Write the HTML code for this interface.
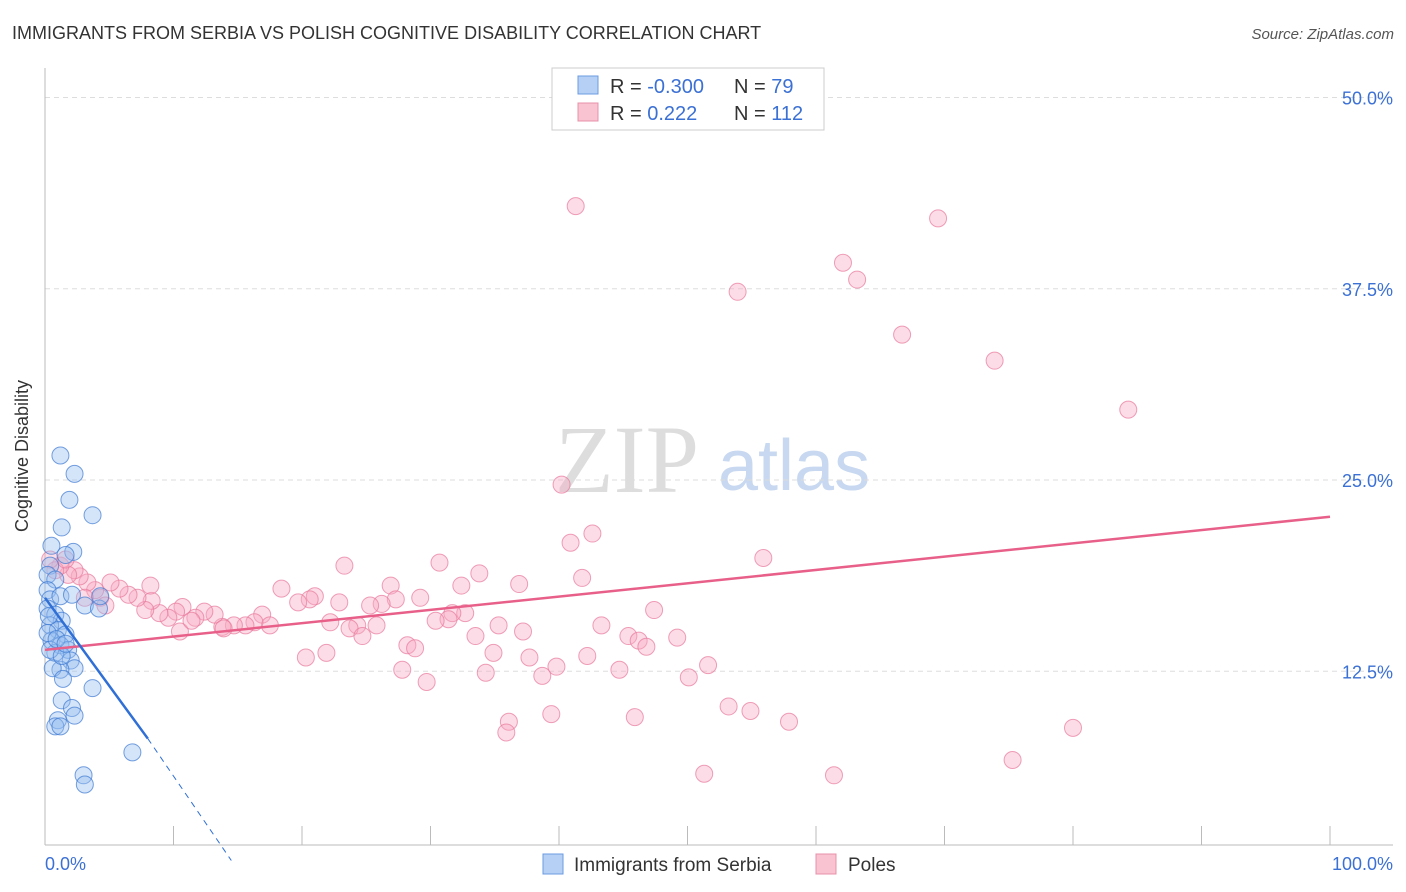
<!DOCTYPE html>
<html><head><meta charset="utf-8"><style>
body{margin:0;background:#fff;font-family:"Liberation Sans",sans-serif}
svg{display:block}
</style></head><body>
<svg id="chart" width="1406" height="892" xmlns="http://www.w3.org/2000/svg">
<text x="12" y="39" font-size="18" fill="#333">IMMIGRANTS FROM SERBIA VS POLISH COGNITIVE DISABILITY CORRELATION CHART</text>
<text x="1394" y="39" font-size="15" fill="#555" font-style="italic" text-anchor="end">Source: ZipAtlas.com</text>
<g>
<text x="555" y="492" font-size="96" fill="#ddd" font-family="Liberation Serif,serif">ZIP</text>
<text x="718" y="490" font-size="72" fill="#c8d8f0">atlas</text>
</g>
<g id="grid"></g>
<g id="axes"></g>
<g id="pts"></g>
<g id="trends"></g>
<text x="28" y="456" font-size="18" fill="#333" text-anchor="middle" transform="rotate(-90 28 456)">Cognitive Disability</text>
<g>
<rect x="552" y="68" width="272" height="62" fill="#fff" stroke="#ccc"/>
<rect x="578" y="76" width="20" height="18" fill="#b6d0f5" stroke="#6a9be0"/>
<rect x="578" y="103" width="20" height="18" fill="#f9c3d2" stroke="#e890aa"/>
<text x="610" y="93" font-size="20" fill="#333">R = <tspan fill="#3b70d4">-0.300</tspan></text>
<text x="734" y="93" font-size="20" fill="#333">N = <tspan fill="#3b70d4"> 79</tspan></text>
<text x="610" y="120" font-size="20" fill="#333">R = <tspan fill="#3b70d4"> 0.222</tspan></text>
<text x="734" y="120" font-size="20" fill="#333">N = <tspan fill="#3b70d4">112</tspan></text>
</g>
<g>
<rect x="543" y="854" width="20" height="20" fill="#b6d0f5" stroke="#6a9be0"/>
<text x="574" y="871" font-size="19" fill="#333">Immigrants from Serbia</text>
<rect x="816" y="854" width="20" height="20" fill="#f9c3d2" stroke="#e890aa"/>
<text x="848" y="871" font-size="19" fill="#333">Poles</text>
</g>
</svg>
<script>
const yTicks=[50,37.5,25,12.5];
const yTickLabels=["50.0%","37.5%","25.0%","12.5%"];
const xTickLabels=["0.0%","100.0%"];
const serbiaX=[1.2,2.3,1.9,3.7,1.3,0.5,2.2,1.6,0.4,0.2,0.8,0.2,0.4,1.2,2.1,3.1,4.2,4.3,0.2,0.8,1.3,0.4,1.0,1.6,0.5,1.2,1.8,0.8,2.0,2.3,1.2,0.6,1.4,3.7,1.3,2.1,2.3,1.0,0.8,1.2,6.8,3.0,3.1,0.2,0.4,0.9,1.3,1.6,0.3];
const serbiaY=[26.6,25.4,23.7,22.7,21.9,20.7,20.3,20.1,19.4,18.8,18.5,17.8,17.2,17.4,17.5,16.8,16.6,17.4,16.6,16.2,15.8,15.5,15.2,14.9,14.5,14.2,13.9,13.7,13.2,12.7,12.6,12.7,12.0,11.4,10.6,10.1,9.6,9.3,8.9,8.9,7.2,5.7,5.1,15.0,13.9,14.6,13.5,14.3,16.1];
const polesX=[41.3,69.5,62.1,63.2,53.9,66.7,73.9,84.3,40.2,42.6,40.9,55.9,30.7,23.3,33.8,41.8,26.9,32.4,36.9,18.4,21.0,20.6,19.7,22.9,27.3,29.2,26.2,25.3,47.4,32.7,31.7,31.4,30.4,22.2,24.3,23.7,25.8,35.3,43.3,33.5,37.2,45.4,46.2,49.2,46.8,24.7,28.2,28.8,34.9,21.9,20.3,37.7,42.2,39.8,51.6,27.8,34.3,44.7,38.7,50.1,29.7,53.2,54.9,39.4,45.9,36.1,57.9,80.0,35.9,75.3,51.3,61.4,16.9,17.5,16.3,15.6,14.7,13.8,13.2,12.4,11.7,10.7,10.2,9.6,8.9,8.3,7.8,7.2,6.5,5.8,5.1,4.3,3.9,4.7,3.3,2.7,2.3,1.8,1.2,0.8,0.4,1.6,10.5,13.9,11.4,8.2,3.1];
const polesY=[42.9,42.1,39.2,38.1,37.3,34.5,32.8,29.6,24.7,21.5,20.9,19.9,19.6,19.4,18.9,18.6,18.1,18.1,18.2,17.9,17.4,17.2,17.0,17.0,17.2,17.3,16.9,16.8,16.5,16.3,16.3,15.9,15.8,15.7,15.5,15.3,15.5,15.5,15.5,14.8,15.1,14.8,14.5,14.7,14.1,14.8,14.2,14.0,13.7,13.7,13.4,13.4,13.5,12.8,12.9,12.6,12.4,12.6,12.2,12.1,11.8,10.2,9.9,9.7,9.5,9.2,9.2,8.8,8.5,6.7,5.8,5.7,16.2,15.5,15.7,15.5,15.5,15.4,16.2,16.4,16.0,16.7,16.4,16.0,16.3,17.1,16.5,17.3,17.5,17.9,18.3,17.3,17.8,16.8,18.3,18.7,19.1,18.8,19.4,19.1,19.8,19.8,15.1,15.3,15.8,18.1,17.3];
const polesTrend=[13.9,22.6];
const serbiaTrend=[17.3,8.1,0];
const NS="http://www.w3.org/2000/svg";
const X=v=>45+12.85*v, Y=v=>862.5-15.3*v;
function mk(tag,attrs,parent){const e=document.createElementNS(NS,tag);for(const k in attrs)e.setAttribute(k,attrs[k]);parent.appendChild(e);return e;}
const grid=document.getElementById('grid'),axes=document.getElementById('axes');
yTicks.forEach((t,i)=>{
 const l=mk('line',{x1:45,x2:1393,y1:Y(t),y2:Y(t),stroke:'#ddd','stroke-dasharray':'5,4'},grid);
 
 
 const tx=mk('text',{x:1393,y:Y(t)+7,'font-size':18,fill:'#3b70d4','text-anchor':'end'},axes);
 tx.textContent=yTickLabels[i];
 
 
});
mk('line',{x1:45,x2:45,y1:68,y2:845,stroke:'#bbb'},axes);
mk('line',{x1:45,x2:1393,y1:845,y2:845,stroke:'#bbb'},axes);
for(let i=0;i<=10;i++){const t=mk('line',{x1:X(i*10),x2:X(i*10),y1:826,y2:845,stroke:'#bbb'},axes);
 
 }
[[0,'start',45],[1,'end',1393]].forEach(([i,a,x])=>{const t=mk('text',{x:x,y:870,'font-size':18,fill:'#3b70d4','text-anchor':a},axes);t.textContent=xTickLabels[i];
 
 });
const pts=document.getElementById('pts');
polesX.forEach((x,i)=>{const c=mk('circle',{cx:X(x),cy:Y(polesY[i]),r:8.5,fill:'rgba(248,170,195,0.4)',stroke:'rgba(232,120,155,0.7)','stroke-width':1},pts);
 
 });
serbiaX.forEach((x,i)=>{const c=mk('circle',{cx:X(x),cy:Y(serbiaY[i]),r:8.5,fill:'rgba(150,190,240,0.4)',stroke:'rgba(60,120,210,0.7)','stroke-width':1},pts);
 
 });
const tr=document.getElementById('trends');
const pl=mk('line',{x1:X(0),y1:Y(polesTrend[0]),x2:X(100),y2:Y(polesTrend[1]),stroke:'#e8608a','stroke-width':2.5},tr);


const sl=mk('line',{x1:X(0),y1:Y(serbiaTrend[0]),x2:X(8),y2:Y(serbiaTrend[1]),stroke:'#2f6fd6','stroke-width':2.5},tr);


const sd=mk('line',{x1:X(8),y1:Y(serbiaTrend[1]),x2:X(14.5),y2:Y(serbiaTrend[2])-2,stroke:'#2f6fd6','stroke-width':1,'stroke-dasharray':'6,5'},tr);


</script>
</body></html>
